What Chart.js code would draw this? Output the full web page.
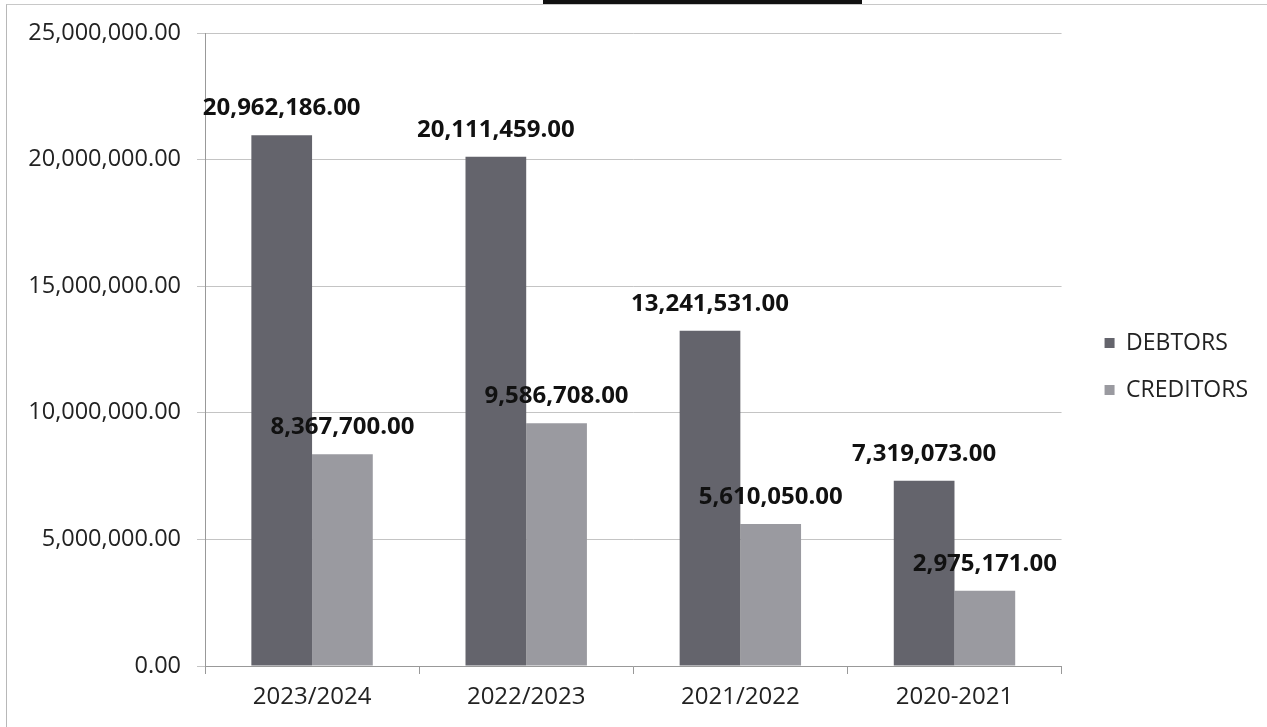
<!DOCTYPE html>
<html>
<head>
<meta charset="utf-8">
<script src="https://cdn.jsdelivr.net/npm/chart.js@4/dist/chart.umd.min.js"></script>
<style>
  html, body { margin: 0; padding: 0; background: #fff; }
  #wrap { position: relative; width: 1267px; height: 727px; overflow: hidden; }
  #frame { position: absolute; left: 6px; top: 4px; right: -2px; bottom: -2px;
           border-left: 1px solid #b8b8b8; border-top: 1px solid #c8c8c8; }
  #titlebox { position: absolute; left: 543px; top: 0; width: 319px; height: 4px; background: #111; }
  canvas { position: absolute; left: 0; top: 0; }
</style>
</head>
<body>
<div id="wrap">
  <div id="frame"></div>
  <div id="titlebox"></div>
  <canvas id="grafico" width="1267" height="727"></canvas>
</div>
<script>
// Datos del grafico
const periodos = ['2023/2024', '2022/2023', '2021/2022', '2020-2021'];
const deudores = [20962186, 20111459, 13241531, 7319073];
const acreedores = [8367700, 9586708, 5610050, 2975171];
const marcasY = [0, 5000000, 10000000, 15000000, 20000000, 25000000];

const fuente = "'Open Sans', 'DejaVu Sans', sans-serif";

function formato(v) {
  return v.toLocaleString('en-US', { minimumFractionDigits: 2, maximumFractionDigits: 2 });
}

// Etiquetas encima de cada barra
const etiquetas = {
  id: 'etiquetas',
  afterDatasetsDraw(chart) {
    const ctx = chart.ctx;
    ctx.save();
    ctx.font = 'bold 24px ' + fuente;
    ctx.fillStyle = '#111';
    ctx.textAlign = 'center';
    ctx.textBaseline = 'middle';
    chart.data.datasets.forEach((ds, i) => {
      chart.getDatasetMeta(i).data.forEach((bar, j) => {
        ctx.fillText(formato(ds.data[j]), bar.x, bar.y - 27);
      });
    });
    ctx.restore();
  }
};

var ctx = document.getElementById('grafico').getContext('2d');
var myChart = new Chart(ctx, {
  type: 'bar',
  data: {
    labels: periodos,
    datasets: [{
      label: 'DEBTORS',
      data: deudores,
      backgroundColor: '#64646c'
    }, {
      label: 'CREDITORS',
      data: acreedores,
      backgroundColor: '#9a9aa0'
    }]
  },
  options: {
    responsive: false,
    animation: false,
    layout: { padding: { left: 6, top: 33, right: 9, bottom: 0 } },
    datasets: {
      bar: { categoryPercentage: 0.567, barPercentage: 1.0 }
    },
    plugins: {
      tooltip: { enabled: false },
      legend: {
        position: 'right',
        fullSize: false,
        title: { display: true, text: ' ', font: { size: 10 }, padding: { top: 11, bottom: 11 } },
        labels: {
          boxWidth: 10,
          boxHeight: 10,
          padding: 24,
          color: '#222',
          font: { family: fuente, size: 23 }
        }
      }
    },
    scales: {
      x: {
        afterFit(scale) { scale.height = 61; },
        grid: { display: true, drawOnChartArea: false, drawTicks: true, tickLength: 8, color: '#999', offset: true },
        border: { color: '#999' },
        ticks: { color: '#222', padding: 9, font: { family: fuente, size: 24 } }
      },
      y: {
        min: 0,
        max: 25000000,
        afterFit(scale) { scale.width = 199; },
        afterBuildTicks(scale) { scale.ticks = marcasY.map(v => ({ value: v })); },
        grid: { color: '#c4c4c4', tickLength: 8 },
        border: { color: '#999' },
        ticks: {
          color: '#222',
          padding: 16,
          font: { family: fuente, size: 23.5 },
          callback: v => formato(v)
        }
      },
      // eje vacio: separa la leyenda del area del grafico
      hueco: {
        position: 'right',
        afterFit(scale) { scale.width = 19; },
        ticks: { display: false },
        grid: { display: false },
        border: { display: false }
      }
    }
  },
  plugins: [etiquetas]
});
</script>
</body>
</html>
